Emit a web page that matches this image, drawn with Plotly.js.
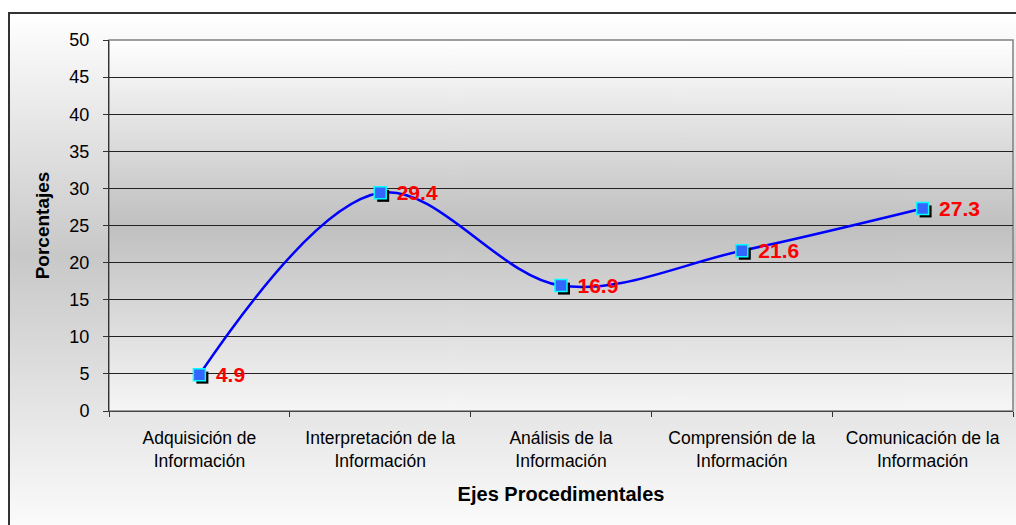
<!DOCTYPE html>
<html>
<head>
<meta charset="utf-8">
<script src="https://cdn.plot.ly/plotly-3.0.1.min.js"></script>
<style>
  html, body { margin:0; padding:0; background:#ffffff; width:1016px; height:525px; overflow:hidden; }
  #frame { position:absolute; left:8px; top:12px; width:1020px; height:540px; box-sizing:border-box;
           border:2px solid #333333;
           background: linear-gradient(to bottom, #ffffff 0%, #c8c8c8 45%, #ffffff 100%); }
  #chart { position:absolute; left:0; top:0; width:1016px; height:525px; }
</style>
</head>
<body>
<div id="frame"></div>
<div id="chart"></div>
<script>
const categories = [
  "Adquisición de<br>Información",
  "Interpretación de la<br>Información",
  "Análisis de la<br>Información",
  "Comprensión de la<br>Información",
  "Comunicación de la<br>Información"
];
const values = [4.9, 29.4, 16.9, 21.6, 27.3];
const valueLabels = ["4.9", "29.4", "16.9", "21.6", "27.3"];
const yTickValues = [0, 5, 10, 15, 20, 25, 30, 35, 40, 45, 50];

// plot-area gradient as an image
const cv = document.createElement('canvas');
cv.width = 4; cv.height = 400;
const ctx = cv.getContext('2d');
const g = ctx.createLinearGradient(0, 0, 0, 400);
g.addColorStop(0, '#ffffff');
g.addColorStop(0.5, '#c0c0c0');
g.addColorStop(1, '#f6f6f6');
ctx.fillStyle = g;
ctx.fillRect(0, 0, 4, 400);
const bgUrl = cv.toDataURL('image/png');

const lineTrace = {
  x: categories, y: values, type: 'scatter', mode: 'lines',
  line: { color: '#0000ff', width: 2.5, shape: 'spline', smoothing: 1 },
  hoverinfo: 'skip', showlegend: false
};
const shadowTrace = {
  x: categories, y: values, type: 'scatter', mode: 'markers',
  marker: { symbol: 'square', size: 12, color: '#000000', line: { width: 0 } },
  hoverinfo: 'skip', showlegend: false
};
const markerTrace = {
  x: categories, y: values, type: 'scatter', mode: 'markers+text',
  marker: { symbol: 'square', size: 12, color: '#3366ff', line: { color: '#00ffff', width: 1.5 } },
  text: valueLabels, textposition: 'middle right',
  textfont: { family: 'Liberation Sans, Arial, sans-serif', size: 21, color: '#ff0000', weight: 'bold' },
  cliponaxis: false, showlegend: false
};

const layout = {
  width: 1016, height: 525,
  margin: { l: 109, r: 3, t: 40, b: 114 },
  paper_bgcolor: 'rgba(0,0,0,0)',
  plot_bgcolor: 'rgba(0,0,0,0)',
  font: { family: 'Liberation Sans, Arial, sans-serif', color: '#000000' },
  showlegend: false,
  xaxis: {
    type: 'category',
    range: [-0.5, 4.5],
    tickson: 'boundaries',
    ticks: 'outside', ticklen: 5, tickcolor: '#333333', tickwidth: 1,
    showgrid: false,
    showline: true, linecolor: '#444444', linewidth: 1,
    tickfont: { size: 17.5, color: '#000000' },
    ticklabelstandoff: 11,
    title: { text: 'Ejes Procedimentales', font: { size: 20, weight: 'bold', color: '#000000' }, standoff: 17 }
  },
  yaxis: {
    range: [0, 50],
    tickvals: yTickValues,
    ticktext: yTickValues.map(String),
    ticks: 'outside', ticklen: 5, tickcolor: '#333333', tickwidth: 1,
    showgrid: true, gridcolor: '#222222', gridwidth: 1,
    zeroline: false,
    showline: true, linecolor: '#333333', linewidth: 1,
    tickfont: { size: 18, color: '#000000' },
    ticklabelstandoff: 10,
    title: { text: 'Porcentajes', font: { size: 19, weight: 'bold', color: '#000000' }, standoff: 14 }
  },
  images: [{
    source: bgUrl, xref: 'paper', yref: 'paper', x: 0, y: 1, sizex: 1, sizey: 1,
    sizing: 'stretch', xanchor: 'left', yanchor: 'top', layer: 'below'
  }],
  shapes: [{
    type: 'rect', xref: 'paper', yref: 'paper', x0: 0, x1: 1, y0: 0, y1: 1,
    line: { color: '#808080', width: 1.5 }, fillcolor: 'rgba(0,0,0,0)', layer: 'below'
  }]
};

Plotly.newPlot('chart', [lineTrace, shadowTrace, markerTrace], layout, { staticPlot: true, displayModeBar: false })
  .then(function () {
    const traces = document.querySelectorAll('#chart .scatterlayer .trace');
    if (traces.length >= 3) {
      const pts = traces[1].querySelector('.points');
      if (pts) pts.setAttribute('transform', 'translate(3,3)');
      const txt = traces[2].querySelector('.text');
      if (txt) txt.setAttribute('transform', 'translate(8,2)');
    }
  });
</script>
</body>
</html>
